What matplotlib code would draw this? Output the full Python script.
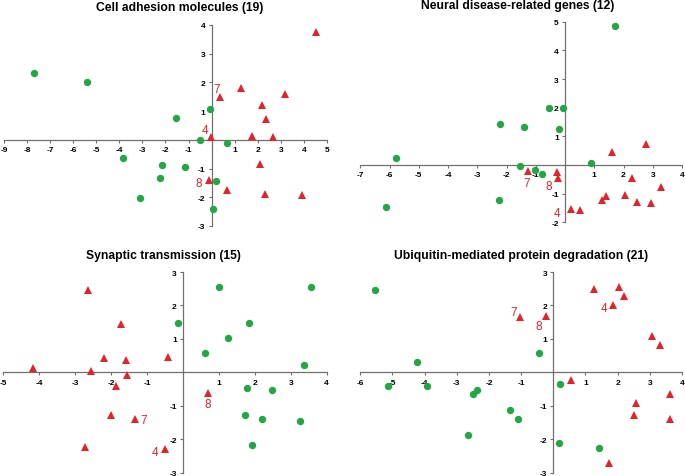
import matplotlib
matplotlib.use("Agg")
import matplotlib.pyplot as plt

plt.rcParams['font.family'] = ['Liberation Sans', 'DejaVu Sans']

GREEN = '#23a745'
RED = '#e3222a'

# Panel 1: Cell adhesion molecules
p1_title = "Cell adhesion molecules (19)"
p1_green_x = [-7.71, -5.41, -1.56, -0.06, -0.51, 0.65, -3.85, -2.16, -1.14, -2.24, 0.17, -3.11, 0.06]
p1_green_y = [2.34, 2.03, 0.76, 1.08, 0.01, -0.12, -0.62, -0.88, -0.94, -1.34, -1.44, -2.01, -2.42]
p1_red_x = [4.54, 1.27, 0.35, 3.20, 2.17, 2.37, -0.03, 1.76, 2.65, 2.11, -0.13, 0.65, 2.30, 3.93]
p1_red_y = [3.74, 1.81, 1.49, 1.58, 1.22, 0.74, 0.10, 0.14, 0.09, -0.85, -1.40, -1.73, -1.87, -1.91]
p1_labels = ["7", "4", "8"]
p1_label_x = [0.20, -0.29, -0.58]
p1_label_y = [1.76, 0.35, -1.49]
p1_xticks = [-9, -8, -7, -6, -5, -4, -3, -2, -1, 1, 2, 3, 4, 5]
p1_yticks = [-3, -2, -1, 1, 2, 3, 4]

# Panel 2: Neural disease-related genes
p2_title = "Neural disease-related genes (12)"
p2_green_x = [1.72, -0.54, -0.08, -2.21, -1.40, -0.22, -5.78, 0.89, -1.53, -1.04, -0.80, -2.26, -6.11]
p2_green_y = [4.86, 1.99, 2.00, 1.43, 1.34, 1.24, 0.24, 0.06, -0.03, -0.16, -0.30, -1.22, -1.45]
p2_red_x = [2.76, 1.60, -1.27, -0.27, -0.23, 2.30, 3.27, 2.06, 1.41, 1.25, 2.45, 2.93, 0.22, 0.52]
p2_red_y = [0.73, 0.47, -0.22, -0.26, -0.44, -0.44, -0.78, -1.03, -1.08, -1.21, -1.30, -1.33, -1.53, -1.58]
p2_labels = ["7", "8", "4"]
p2_label_x = [-1.32, -0.56, -0.27]
p2_label_y = [-0.62, -0.74, -1.66]
p2_xticks = [-7, -6, -5, -4, -3, -2, -1, 1, 2, 3, 4]
p2_yticks = [-2, -1, 1, 2, 3, 4, 5]

# Panel 3: Synaptic transmission
p3_title = "Synaptic transmission (15)"
p3_green_x = [0.99, 3.57, -0.15, 1.85, 1.26, 0.60, 3.37, 1.78, 2.48, 1.73, 2.21, 3.27, 1.92]
p3_green_y = [2.56, 2.55, 1.49, 1.48, 1.02, 0.59, 0.23, -0.46, -0.54, -1.27, -1.38, -1.46, -2.16]
p3_red_x = [-2.65, -1.73, -2.19, -1.59, -0.43, -4.17, -2.56, -1.57, -1.86, 0.69, -1.99, -1.34, -2.72, -0.49]
p3_red_y = [2.47, 1.45, 0.43, 0.38, 0.45, 0.12, 0.03, -0.08, -0.41, -0.61, -1.27, -1.39, -2.23, -2.29]
p3_labels = ["8", "7", "4"]
p3_label_x = [0.69, -1.10, -0.77]
p3_label_y = [-0.96, -1.42, -2.39]
p3_xticks = [-5, -4, -3, -2, -1, 1, 2, 3, 4]
p3_yticks = [-3, -2, -1, 1, 2, 3]

# Panel 4: Ubiquitin-mediated protein degradation
p4_title = "Ubiquitin-mediated protein degradation (21)"
p4_green_x = [-5.55, -4.25, -5.13, -3.93, -2.37, -2.51, -1.34, -1.09, -2.65, -0.45, 0.22, 0.17, 1.43]
p4_green_y = [2.47, 0.30, -0.42, -0.42, -0.52, -0.66, -1.13, -1.40, -1.86, 0.57, -0.35, -2.10, -2.27]
p4_red_x = [1.25, 2.05, 2.21, 1.87, -1.05, -0.22, 3.07, 3.32, 0.55, 3.63, 2.57, 2.51, 3.63, 1.72]
p4_red_y = [2.48, 2.54, 2.28, 2.00, 1.66, 1.67, 1.10, 0.81, -0.23, -0.66, -0.91, -1.27, -1.39, -2.70]
p4_labels = ["7", "8", "4"]
p4_label_x = [-1.23, -0.45, 1.56]
p4_label_y = [1.79, 1.38, 1.91]
p4_xticks = [-6, -5, -4, -3, -2, -1, 1, 2, 3, 4]
p4_yticks = [-3, -2, -1, 1, 2, 3]

W, H = 685, 477
fig = plt.figure(figsize=(W / 100, H / 100), dpi=100)


def px_axes(x0, x1, ytop, ybot):
    return fig.add_axes([x0 / W, (H - ybot) / H, (x1 - x0) / W, (ybot - ytop) / H])


panels = [
    (p1_title, p1_green_x, p1_green_y, p1_red_x, p1_red_y, p1_labels, p1_label_x, p1_label_y,
     p1_xticks, p1_yticks, (4, 327, 26, 227), (180, 8)),
    (p2_title, p2_green_x, p2_green_y, p2_red_x, p2_red_y, p2_labels, p2_label_x, p2_label_y,
     p2_xticks, p2_yticks, (360.3, 682, 22.7, 223.3), (518, 6)),
    (p3_title, p3_green_x, p3_green_y, p3_red_x, p3_red_y, p3_labels, p3_label_x, p3_label_y,
     p3_xticks, p3_yticks, (3.3, 326.7, 273, 473.7), (163, 256)),
    (p4_title, p4_green_x, p4_green_y, p4_red_x, p4_red_y, p4_labels, p4_label_x, p4_label_y,
     p4_xticks, p4_yticks, (360.3, 682, 273, 473.7), (521, 256)),
]

for (title, gx, gy, rx, ry, labs, lx, ly, xt, yt, box, tpos) in panels:
    ax = px_axes(*box)
    ax.set_xlim(min(xt), max(xt))
    ax.set_ylim(min(yt), max(yt))
    for s in ['top', 'right']:
        ax.spines[s].set_visible(False)
    for s in ['left', 'bottom']:
        ax.spines[s].set_position(('data', 0))
        ax.spines[s].set_color('#707070')
        ax.spines[s].set_linewidth(0.9)
    ax.set_xticks(xt)
    ax.set_yticks(yt)
    ax.set_xticklabels([str(v) for v in xt])
    ax.set_yticklabels([str(v) for v in yt])
    ax.tick_params(axis='both', direction='out', length=2.5, width=0.8, color='#707070',
                   labelsize=6, pad=2)
    for lab in ax.get_xticklabels() + ax.get_yticklabels():
        lab.set_fontweight('bold')
    ax.patch.set_alpha(0)
    ax.plot(gx, gy, 'o', color=GREEN, markersize=5.3, markeredgewidth=0, clip_on=False, zorder=3)
    ax.plot(rx, ry, '^', color=RED, markersize=6, markeredgewidth=0, clip_on=False, zorder=3)
    for t, x, y in zip(labs, lx, ly):
        ax.text(x, y, t, color=RED, fontsize=8.5, ha='center', va='center', zorder=4)
    fig.text(tpos[0] / W, 1 - tpos[1] / H, title, ha='center', va='center',
             fontsize=8.7, fontweight='bold')

fig.savefig('out.png', dpi=100)
